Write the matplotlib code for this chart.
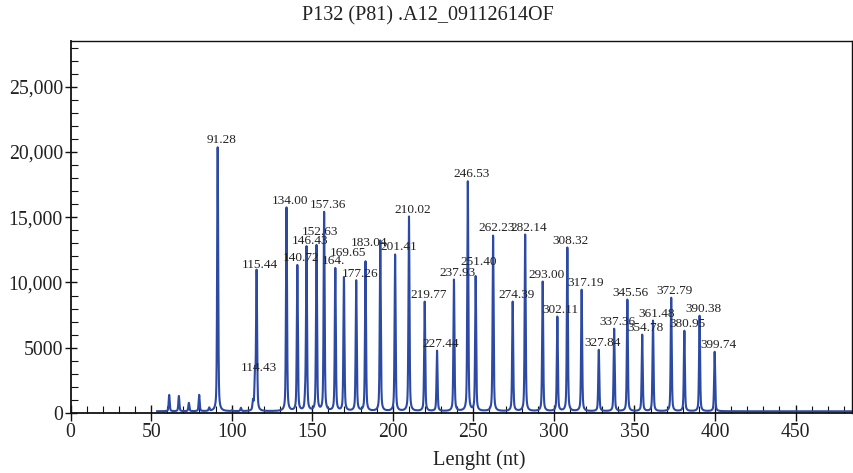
import numpy as np
import matplotlib
matplotlib.use("Agg")
import matplotlib.pyplot as plt
from matplotlib.ticker import MultipleLocator, FuncFormatter

# ---------------- data ----------------
title = "P132 (P81) .A12_09112614OF"
xlabel = "Lenght (nt)"

# labelled peaks: size (nt) and height (RFU)
peak_sizes = [91.28, 114.43, 115.44, 134.00, 140.72, 146.43, 152.63, 157.36,
              164.30, 169.65, 177.26, 183.04, 201.41, 210.02, 219.77, 227.44,
              237.93, 246.53, 251.40, 262.23, 274.39, 282.14, 293.00, 302.11,
              308.32, 317.19, 327.84, 337.36, 345.56, 354.78, 361.48, 372.79,
              380.95, 390.38, 399.74]
peak_heights = [20350, 2900, 10800, 15720, 11280, 12650, 12800, 15340,
                11050, 10360, 10120, 11580, 12120, 15030, 8510, 4750,
                10200, 17720, 10430, 13580, 8510, 13650, 10050, 7360,
                12650, 9430, 4830, 6440, 8670, 5980, 7060, 8820,
                6290, 7440, 4680]
peak_labels = ["91.28", "114.43", "115.44", "134.00", "140.72", "146.43", "152.63", "157.36",
               "164.", "169.65", "177.26", "183.04", "201.41", "210.02", "219.77", "227.44",
               "237.93", "246.53", "251.40", "262.23", "274.39", "282.14", "293.00", "302.11",
               "308.32", "317.19", "327.84", "337.36", "345.56", "354.78", "361.48", "372.79",
               "380.95", "390.38", "399.74"]

# unlabelled minor / hidden-label peaks
minor_sizes = [61.2, 67.2, 73.4, 79.8, 86.0, 100.3, 105.7, 113.2, 145.6, 192.2]
minor_heights = [1380, 1300, 770, 1380, 380, 200, 380, 840, 900, 13190]

trace_start = 53.7
trace_end = 490.0
baseline = 130

# ---------------- layout ----------------
fig = plt.figure(figsize=(8.54, 4.73), dpi=100)
ax = fig.add_axes([70.6 / 854, 1 - 413 / 473, 781.4 / 854, 372 / 473])

serif = ["Liberation Serif", "DejaVu Serif"]
blue = "#2c4aa3"

# build trace from the peaks (pseudo-Voigt shape for each)
x = np.arange(trace_start, trace_end, 0.02)
y = np.full_like(x, baseline, dtype=float)
for p, h in zip(list(peak_sizes) + minor_sizes, list(peak_heights) + minor_heights):
    g = np.exp(-0.5 * ((x - p) / 0.32) ** 2)
    l = 1.0 / (1.0 + ((x - p) / 0.38) ** 2)
    y += (h - baseline) * (0.55 * g + 0.45 * l)

ax.plot(x, y, color=blue, lw=1.5, solid_joinstyle="round")

# peak labels
extra = {"152.63": 510, "169.65": 1340, "183.04": 880, "251.40": 550}
for p, h, lab in zip(peak_sizes, peak_heights, peak_labels):
    yy = h + 330 + extra.get(lab, 0)
    if lab == "164.":
        ax.text(p - 8.4, yy, lab, ha="left", va="baseline", fontsize=9.5,
                family=serif, color="#222222")
    else:
        ax.text(p + 2.2, yy, lab, ha="center", va="baseline", fontsize=9.5,
                family=serif, color="#222222")

ax.set_xlim(0, 485.0)
ax.set_ylim(0, 28500)

ax.xaxis.set_major_locator(MultipleLocator(50))
ax.xaxis.set_minor_locator(MultipleLocator(10))
ax.yaxis.set_major_locator(MultipleLocator(5000))
ax.yaxis.set_minor_locator(MultipleLocator(1000))


def yfmt(v, pos):
    v = int(round(v))
    return f"{v:,}" if v >= 10000 else f"{v}"


ax.yaxis.set_major_formatter(FuncFormatter(yfmt))

ax.tick_params(axis="x", which="major", direction="inout", length=12, width=1.0,
               labelsize=14.2, pad=1, color="#111111")
ax.tick_params(axis="x", which="minor", direction="in", length=5, width=0.8, color="#111111")
ax.tick_params(axis="y", which="major", direction="inout", length=9, width=1.0,
               labelsize=14.2, pad=1, color="#111111")
ax.tick_params(axis="y", which="minor", direction="in", length=5, width=0.8, color="#111111")

for lab in ax.get_xticklabels() + ax.get_yticklabels():
    lab.set_family(serif)
    lab.set_color("#222222")

for s in ax.spines.values():
    s.set_linewidth(1.0)
    s.set_color("#111111")
ax.spines["left"].set_linewidth(1.3)
ax.spines["bottom"].set_linewidth(1.3)

fig.text(427.5 / 854, 1 - 16 / 473, title, ha="center", va="center", fontsize=14.5,
         family=serif, color="#222222")
fig.text(479 / 854, 1 - 460 / 473, xlabel, ha="center", va="center", fontsize=14.8,
         family=serif, color="#222222")

fig.savefig("out.png", dpi=100)
